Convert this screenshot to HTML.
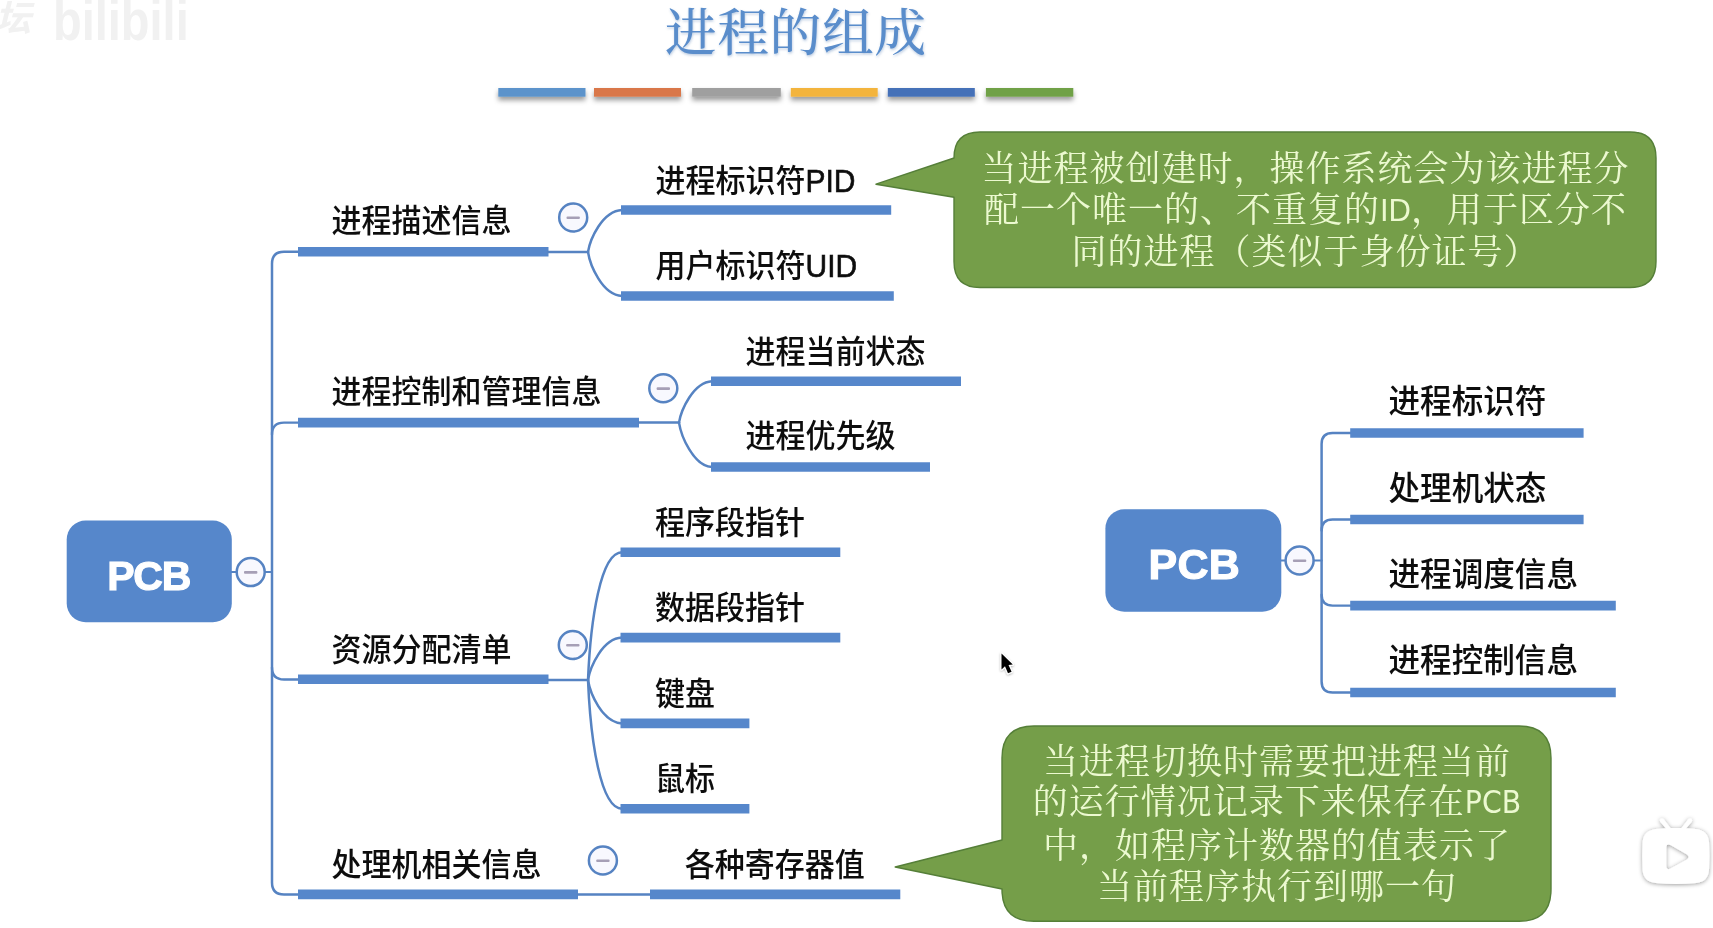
<!DOCTYPE html>
<html lang="zh-CN">
<head>
<meta charset="utf-8">
<title>进程的组成</title>
<style>
html,body{margin:0;padding:0;background:#fff;}
body{width:1713px;height:928px;overflow:hidden;font-family:'Liberation Sans','Noto Sans CJK SC',sans-serif;}
svg{display:block;}
.cond{font-family:'DejaVu Sans',sans-serif;font-stretch:condensed;}
</style>
</head>
<body>
<svg width="1713" height="928" viewBox="0 0 1713 928">
<defs>
<filter id="bs" x="-10%" y="-100%" width="120%" height="400%"><feDropShadow dx="0" dy="3.5" stdDeviation="2.4" flood-color="#000" flood-opacity="0.4"/></filter>
<filter id="ts" x="-5%" y="-20%" width="110%" height="150%"><feDropShadow dx="0.5" dy="1.5" stdDeviation="1.2" flood-color="#3b6aa8" flood-opacity="0.35"/></filter>
<filter id="cs" x="-50%" y="-50%" width="200%" height="200%"><feDropShadow dx="0" dy="1" stdDeviation="1.2" flood-color="#000" flood-opacity="0.3"/></filter>
<filter id="tvs" x="-20%" y="-20%" width="140%" height="150%"><feDropShadow dx="0" dy="0.8" stdDeviation="2.2" flood-color="#000" flood-opacity="0.4"/></filter>
<filter id="soft"><feGaussianBlur stdDeviation="0.55"/></filter>
</defs>
<rect width="1713" height="928" fill="#fff"/>
<g filter="url(#soft)">
<text x="-5" y="31" font-size="36" font-weight="bold" font-style="italic" fill="#f1f1f1" font-family="'Liberation Sans','Noto Sans CJK SC',sans-serif">坛</text><text transform="translate(53,39.5) scale(1,1.22)" font-size="47" font-weight="bold" fill="#f1f1f1" font-family="'Liberation Sans',sans-serif">bilibili</text>
<text x="796" y="33.1" font-size="51.5" letter-spacing="0.9" font-weight="500" fill="#5a8dcb" text-anchor="middle" dominant-baseline="central" font-family="'Liberation Serif','Noto Serif CJK SC',serif" filter="url(#ts)">进程的组成</text>
</g>
<rect x="498.3" y="88" width="87.2" height="8.7" fill="#5b93cb" filter="url(#bs)"/><rect x="594" y="88" width="87.0" height="8.7" fill="#d9774a" filter="url(#bs)"/><rect x="692.2" y="88" width="88.6" height="8.7" fill="#9f9f9f" filter="url(#bs)"/><rect x="790.8" y="88" width="86.9" height="8.7" fill="#f3b43e" filter="url(#bs)"/><rect x="887.8" y="88" width="87.0" height="8.7" fill="#4571b8" filter="url(#bs)"/><rect x="985.9" y="88" width="87.4" height="8.7" fill="#70a147" filter="url(#bs)"/>
<g filter="url(#soft)">
<path d="M298,251.7 H284 Q272,251.7 272,263.7 V882.4 Q272,894.4 284,894.4 H298" fill="none" stroke="#5683c2" stroke-width="2.5" stroke-linecap="round" stroke-linejoin="round"/>
<path d="M272,434.6 Q272,422.6 284,422.6 H298" fill="none" stroke="#5683c2" stroke-width="2.4" stroke-linecap="round" stroke-linejoin="round"/>
<path d="M272,667.5 Q272,679.5 284,679.5 H298" fill="none" stroke="#5683c2" stroke-width="2.4" stroke-linecap="round" stroke-linejoin="round"/>
<path d="M231,572 H272" fill="none" stroke="#5683c2" stroke-width="2.2" stroke-linecap="round" stroke-linejoin="round"/>
<line x1="298" y1="251.7" x2="548.5" y2="251.7" stroke="#5687CB" stroke-width="9.6"/>
<line x1="298" y1="422.6" x2="639" y2="422.6" stroke="#5687CB" stroke-width="9.6"/>
<line x1="298" y1="679.2" x2="548.5" y2="679.2" stroke="#5687CB" stroke-width="9.6"/>
<line x1="298" y1="894.4" x2="578" y2="894.4" stroke="#5687CB" stroke-width="9.6"/>
<text transform="translate(331.5,221.3) scale(1,1.06)" font-size="30" font-weight="500" fill="#0a0a0a" font-family="'Liberation Sans','Noto Sans CJK SC',sans-serif" dominant-baseline="central">进程描述信息</text>
<text transform="translate(331.5,392.3) scale(1,1.06)" font-size="30" font-weight="500" fill="#0a0a0a" font-family="'Liberation Sans','Noto Sans CJK SC',sans-serif" dominant-baseline="central">进程控制和管理信息</text>
<text transform="translate(331.5,650.4) scale(1,1.06)" font-size="30" font-weight="500" fill="#0a0a0a" font-family="'Liberation Sans','Noto Sans CJK SC',sans-serif" dominant-baseline="central">资源分配清单</text>
<text transform="translate(331.5,865.4) scale(1,1.06)" font-size="30" font-weight="500" fill="#0a0a0a" font-family="'Liberation Sans','Noto Sans CJK SC',sans-serif" dominant-baseline="central">处理机相关信息</text>
<path d="M548,251.9 H588" fill="none" stroke="#5683c2" stroke-width="2.5" stroke-linecap="round" stroke-linejoin="round"/>
<path d="M588,252 C590,239.8 602,211.0 622,210" fill="none" stroke="#5683c2" stroke-width="2.5" stroke-linecap="round" stroke-linejoin="round"/>
<path d="M588,252 C590,264.8 602,294.9 622,296" fill="none" stroke="#5683c2" stroke-width="2.5" stroke-linecap="round" stroke-linejoin="round"/>
<path d="M639,422.6 H679" fill="none" stroke="#5683c2" stroke-width="2.5" stroke-linecap="round" stroke-linejoin="round"/>
<path d="M679,422.6 C681,410.6 693,382.2 712,381.2" fill="none" stroke="#5683c2" stroke-width="2.5" stroke-linecap="round" stroke-linejoin="round"/>
<path d="M679,422.6 C681,435.5 693,465.9 712,467" fill="none" stroke="#5683c2" stroke-width="2.5" stroke-linecap="round" stroke-linejoin="round"/>
<path d="M548,680 H588" fill="none" stroke="#5683c2" stroke-width="2.5" stroke-linecap="round" stroke-linejoin="round"/>
<path d="M588,680 C590.5,620.0 600.5,552.3 622,552.3" fill="none" stroke="#5683c2" stroke-width="2.5" stroke-linecap="round" stroke-linejoin="round"/>
<path d="M588,680 C590,667.7 602,638.6 622,637.6" fill="none" stroke="#5683c2" stroke-width="2.5" stroke-linecap="round" stroke-linejoin="round"/>
<path d="M588,680 C590,692.6 602,722.4 622,723.4" fill="none" stroke="#5683c2" stroke-width="2.5" stroke-linecap="round" stroke-linejoin="round"/>
<path d="M588,680 C590.5,740.5 600.5,808.7 622,808.7" fill="none" stroke="#5683c2" stroke-width="2.5" stroke-linecap="round" stroke-linejoin="round"/>
<path d="M578,894.6 H650" fill="none" stroke="#5683c2" stroke-width="2.5" stroke-linecap="round" stroke-linejoin="round"/>
<line x1="621" y1="210" x2="891.2" y2="210" stroke="#5687CB" stroke-width="9.6"/>
<text transform="translate(655.5,180.9) scale(1,1.06)" font-size="30" font-weight="500" fill="#0a0a0a" font-family="'Liberation Sans','Noto Sans CJK SC',sans-serif" dominant-baseline="central">进程标识符<tspan stroke="#0a0a0a" stroke-width="0.55">PID</tspan></text>
<line x1="621" y1="296" x2="893.8" y2="296" stroke="#5687CB" stroke-width="9.6"/>
<text transform="translate(655.5,265.9) scale(1,1.06)" font-size="30" font-weight="500" fill="#0a0a0a" font-family="'Liberation Sans','Noto Sans CJK SC',sans-serif" dominant-baseline="central">用户标识符<tspan stroke="#0a0a0a" stroke-width="0.55">UID</tspan></text>
<line x1="711" y1="381.2" x2="961" y2="381.2" stroke="#5687CB" stroke-width="9.6"/>
<text transform="translate(745.5,351.9) scale(1,1.06)" font-size="30" font-weight="500" fill="#0a0a0a" font-family="'Liberation Sans','Noto Sans CJK SC',sans-serif" dominant-baseline="central">进程当前状态</text>
<line x1="711" y1="467" x2="930" y2="467" stroke="#5687CB" stroke-width="9.6"/>
<text transform="translate(745.5,435.9) scale(1,1.06)" font-size="30" font-weight="500" fill="#0a0a0a" font-family="'Liberation Sans','Noto Sans CJK SC',sans-serif" dominant-baseline="central">进程优先级</text>
<line x1="620.5" y1="552.3" x2="840.3" y2="552.3" stroke="#5687CB" stroke-width="9.6"/>
<text transform="translate(655,523.2) scale(1,1.06)" font-size="30" font-weight="500" fill="#0a0a0a" font-family="'Liberation Sans','Noto Sans CJK SC',sans-serif" dominant-baseline="central">程序段指针</text>
<line x1="620.5" y1="637.6" x2="840.3" y2="637.6" stroke="#5687CB" stroke-width="9.6"/>
<text transform="translate(655,608.5) scale(1,1.06)" font-size="30" font-weight="500" fill="#0a0a0a" font-family="'Liberation Sans','Noto Sans CJK SC',sans-serif" dominant-baseline="central">数据段指针</text>
<line x1="620.5" y1="723.4" x2="749.4" y2="723.4" stroke="#5687CB" stroke-width="9.6"/>
<text transform="translate(655,694.6) scale(1,1.06)" font-size="30" font-weight="500" fill="#0a0a0a" font-family="'Liberation Sans','Noto Sans CJK SC',sans-serif" dominant-baseline="central">键盘</text>
<line x1="620.5" y1="808.7" x2="749.4" y2="808.7" stroke="#5687CB" stroke-width="9.6"/>
<text transform="translate(655,778.9) scale(1,1.06)" font-size="30" font-weight="500" fill="#0a0a0a" font-family="'Liberation Sans','Noto Sans CJK SC',sans-serif" dominant-baseline="central">鼠标</text>
<line x1="650" y1="894.4" x2="900.3" y2="894.4" stroke="#5687CB" stroke-width="9.6"/>
<text transform="translate(684.7,864.9) scale(1,1.06)" font-size="30" font-weight="500" fill="#0a0a0a" font-family="'Liberation Sans','Noto Sans CJK SC',sans-serif" dominant-baseline="central">各种寄存器值</text>
<circle cx="250.7" cy="572.1" r="14" fill="#f8f8fe" stroke="#5683c2" stroke-width="2.5"/>
<rect x="244.0" y="571.0" width="13.4" height="2.7" rx="1" fill="#a69fb6"/>
<circle cx="573.2" cy="217.5" r="14" fill="#f8f8fe" stroke="#5683c2" stroke-width="2.5"/>
<rect x="566.5" y="216.4" width="13.4" height="2.7" rx="1" fill="#a69fb6"/>
<circle cx="663.3" cy="388.3" r="14" fill="#f8f8fe" stroke="#5683c2" stroke-width="2.5"/>
<rect x="656.5999999999999" y="387.2" width="13.4" height="2.7" rx="1" fill="#a69fb6"/>
<circle cx="572.8" cy="645" r="14" fill="#f8f8fe" stroke="#5683c2" stroke-width="2.5"/>
<rect x="566.0999999999999" y="643.9" width="13.4" height="2.7" rx="1" fill="#a69fb6"/>
<circle cx="602.9" cy="860.5" r="14" fill="#f8f8fe" stroke="#5683c2" stroke-width="2.5"/>
<rect x="596.1999999999999" y="859.4" width="13.4" height="2.7" rx="1" fill="#a69fb6"/>
<rect x="66.7" y="520.5" width="165.1" height="101.7" rx="19" fill="#5687CB"/>
<text x="148.7" y="575.8" font-size="41" letter-spacing="-1.2" font-weight="bold" fill="#fff" stroke="#fff" stroke-width="1.1" text-anchor="middle" dominant-baseline="central" font-family="'Liberation Sans',sans-serif">PCB</text>
<path d="M1351,433 H1332.6 Q1321.6,433 1321.6,444 V681.5 Q1321.6,692.5 1332.6,692.5 H1351" fill="none" stroke="#5683c2" stroke-width="2.5" stroke-linecap="round" stroke-linejoin="round"/>
<path d="M1321.6,530.5 Q1321.6,519.5 1332.6,519.5 H1351" fill="none" stroke="#5683c2" stroke-width="2.4" stroke-linecap="round" stroke-linejoin="round"/>
<path d="M1321.6,594.6 Q1321.6,605.6 1332.6,605.6 H1351" fill="none" stroke="#5683c2" stroke-width="2.4" stroke-linecap="round" stroke-linejoin="round"/>
<path d="M1281,560.5 H1321.6" fill="none" stroke="#5683c2" stroke-width="2.2" stroke-linecap="round" stroke-linejoin="round"/>
<line x1="1350.2" y1="433" x2="1583.6" y2="433" stroke="#5687CB" stroke-width="9.6"/>
<text transform="translate(1388.5,401.3) scale(1,1.06)" font-size="31.6" font-weight="500" fill="#0a0a0a" font-family="'Liberation Sans','Noto Sans CJK SC',sans-serif" dominant-baseline="central">进程标识符</text>
<line x1="1350.2" y1="519.5" x2="1583.6" y2="519.5" stroke="#5687CB" stroke-width="9.6"/>
<text transform="translate(1388.5,488.6) scale(1,1.06)" font-size="31.6" font-weight="500" fill="#0a0a0a" font-family="'Liberation Sans','Noto Sans CJK SC',sans-serif" dominant-baseline="central">处理机状态</text>
<line x1="1350.2" y1="605.6" x2="1615.8" y2="605.6" stroke="#5687CB" stroke-width="9.6"/>
<text transform="translate(1388.5,574.7) scale(1,1.06)" font-size="31.6" font-weight="500" fill="#0a0a0a" font-family="'Liberation Sans','Noto Sans CJK SC',sans-serif" dominant-baseline="central">进程调度信息</text>
<line x1="1350.2" y1="692.5" x2="1615.8" y2="692.5" stroke="#5687CB" stroke-width="9.6"/>
<text transform="translate(1388.5,660.8) scale(1,1.06)" font-size="31.6" font-weight="500" fill="#0a0a0a" font-family="'Liberation Sans','Noto Sans CJK SC',sans-serif" dominant-baseline="central">进程控制信息</text>
<circle cx="1299.6" cy="560.5" r="14" fill="#f8f8fe" stroke="#5683c2" stroke-width="2.5"/>
<rect x="1292.8999999999999" y="559.4" width="13.4" height="2.7" rx="1" fill="#a69fb6"/>
<rect x="1105.4" y="509.2" width="175.9" height="102.6" rx="19" fill="#5687CB"/>
<text x="1194.2" y="563.7" font-size="43" font-weight="bold" fill="#fff" text-anchor="middle" dominant-baseline="central" letter-spacing="0.2" stroke="#fff" stroke-width="1.1" font-family="'Liberation Sans',sans-serif">PCB</text>
<path d="M980,132 H1630 Q1656,132 1656,158 V261.5 Q1656,287.5 1630,287.5 H980 Q954,287.5 954,261.5 V197.2 L876,184.2 L954,158 V158 Q954,132 980,132 Z" fill="#759E4A" stroke="#557F38" stroke-width="1.4" stroke-linejoin="round"/>
<text x="1305.5" y="168.8" font-size="35" letter-spacing="1" font-weight="400" fill="#ecf9d0" text-anchor="middle" dominant-baseline="central" font-family="'Liberation Sans','Noto Serif CJK SC',serif">当进程被创建时，操作系统会为该进程分</text>
<text x="1305.5" y="209.8" font-size="35" letter-spacing="1" font-weight="400" fill="#ecf9d0" text-anchor="middle" dominant-baseline="central" font-family="'Liberation Sans','Noto Serif CJK SC',serif">配一个唯一的、不重复的<tspan font-size="31" font-weight="400" letter-spacing="0">ID</tspan>，用于区分不</text>
<text x="1305.5" y="251.3" font-size="35" letter-spacing="1" font-weight="400" fill="#ecf9d0" text-anchor="middle" dominant-baseline="central" font-family="'Liberation Sans','Noto Serif CJK SC',serif">同的进程（类似于身份证号）</text>
<path d="M1034,726 H1519 Q1551,726 1551,758 V889.3 Q1551,921.3 1519,921.3 H1034 Q1002,921.3 1002,889.3 V889 L895.2,867 L1002,840 V758 Q1002,726 1034,726 Z" fill="#759E4A" stroke="#557F38" stroke-width="1.4" stroke-linejoin="round"/>
<text x="1277.0" y="761.8" font-size="35" letter-spacing="1" font-weight="400" fill="#ecf9d0" text-anchor="middle" dominant-baseline="central" font-family="'Liberation Sans','Noto Serif CJK SC',serif">当进程切换时需要把进程当前</text>
<text x="1277.0" y="801.8" font-size="35" letter-spacing="1" font-weight="400" fill="#ecf9d0" text-anchor="middle" dominant-baseline="central" font-family="'Liberation Sans','Noto Serif CJK SC',serif">的运行情况记录下来保存在<tspan class="cond" font-size="31.5" font-weight="400" letter-spacing="0">PCB</tspan></text>
<text x="1277.0" y="845.8" font-size="35" letter-spacing="1" font-weight="400" fill="#ecf9d0" text-anchor="middle" dominant-baseline="central" font-family="'Liberation Sans','Noto Serif CJK SC',serif">中，如程序计数器的值表示了</text>
<text x="1277.0" y="886.8" font-size="35" letter-spacing="1" font-weight="400" fill="#ecf9d0" text-anchor="middle" dominant-baseline="central" font-family="'Liberation Sans','Noto Serif CJK SC',serif">当前程序执行到哪一句</text>
</g>
<path d="M1001.5,653.5 L1001.5,669.4 L1005,666.3 L1008,673.3 L1011.6,671.8 L1008.5,665 L1012.8,664.6 Z" fill="#000" stroke="#fff" stroke-width="2.2" paint-order="stroke" stroke-linejoin="round" filter="url(#cs)"/>
<path filter="url(#tvs)" fill="#fff" fill-rule="evenodd" d="M1656,829 Q1665,828.2 1665.8,828.2 L1660.2,821.8 Q1659,819.8 1660.8,818.8 Q1662.6,817.9 1664,819.6 L1670.5,828 Q1676,827.8 1681.5,828 L1688,819.6 Q1689.4,817.9 1691.2,818.8 Q1693,819.8 1691.8,821.8 L1686.2,828.2 Q1690,828.3 1696,829 Q1708,830.5 1709,842 Q1710,856 1709,870 Q1708,882 1696,883 Q1676,885 1656,883 Q1643.5,882 1642.6,870 Q1641.8,856 1642.6,842 Q1643.5,830.5 1656,829 Z M1666.3,847.5 L1666.3,866 Q1666.5,870.5 1670.5,868.6 L1687,859.4 Q1690.2,857 1687,854.4 L1670.5,845 Q1666.5,843 1666.3,847.5 Z"/>
</svg>
</body>
</html>
